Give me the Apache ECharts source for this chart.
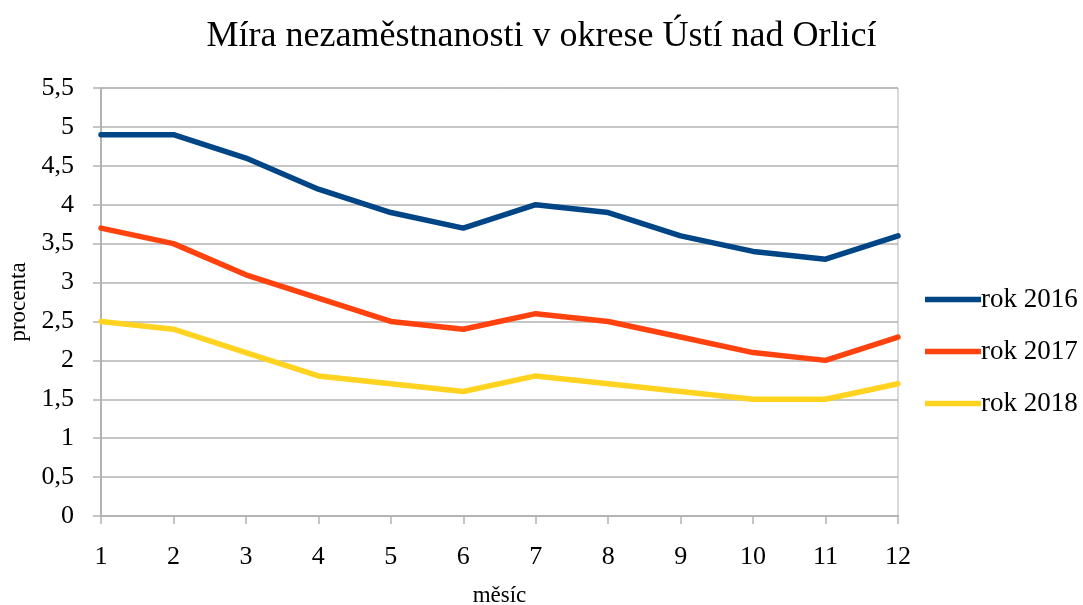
<!DOCTYPE html>
<html><head><meta charset="utf-8">
<script src="https://cdn.jsdelivr.net/npm/echarts@6/dist/echarts.min.js"></script>
<style>html,body{margin:0;padding:0;background:#fff}#c{width:1083px;height:605px}</style>
</head><body><div id="c"></div>
<script>
const months = ['1','2','3','4','5','6','7','8','9','10','11','12'];
const seriesNames = ['rok 2016','rok 2017','rok 2018'];
const rok2016 = [4.9, 4.9, 4.6, 4.2, 3.9, 3.7, 4.0, 3.9, 3.6, 3.4, 3.3, 3.6];
const rok2017 = [3.7, 3.5, 3.1, 2.8, 2.5, 2.4, 2.6, 2.5, 2.3, 2.1, 2.0, 2.3];
const rok2018 = [2.5, 2.4, 2.1, 1.8, 1.7, 1.6, 1.8, 1.7, 1.6, 1.5, 1.5, 1.7];
const colors = ['#004586','#ff420e','#ffd320'];
const FONT = '"Liberation Serif", "DejaVu Serif", serif';
const chart = echarts.init(document.getElementById('c'), null, {renderer:'canvas'});
const mk = (name, data, i) => ({
  name, type:'line', data, symbol:'none', smooth:false,
  lineStyle:{width:5.5, color:colors[i], cap:'round', join:'round'},
  itemStyle:{color:colors[i]}
});
chart.setOption({
  animation:false,
  title:{text:'Míra nezaměstnanosti v okrese Ústí nad Orlicí', left:'center', top:14,
    textStyle:{fontFamily:FONT, fontSize:36, fontWeight:'normal', color:'#000'}},
  grid:{left:101, right:185, top:88, bottom:89, show:true, borderColor:'#b3b3b3', borderWidth:1,
    containLabel:false, outerBoundsMode:'none'},
  legend:{orient:'vertical', left:920, top:281, itemGap:25, itemWidth:56, itemHeight:10,
    icon:'path://M0,0 L10,0 L10,1 L0,1 Z',
    data:seriesNames.map((n,i)=>({name:n, itemStyle:{color:colors[i]}, lineStyle:{color:colors[i], width:5.5, cap:'round'}})),
    textStyle:{fontFamily:FONT, fontSize:27, color:'#000', padding:[0,0,0,-5]}},
  xAxis:{type:'category', data:months, boundaryGap:false,
    name:'měsíc', nameLocation:'middle', nameGap:68,
    nameTextStyle:{fontFamily:FONT, fontSize:23, color:'#000'},
    axisLine:{lineStyle:{color:'#b3b3b3', width:2}},
    axisTick:{show:true, length:8, lineStyle:{color:'#b3b3b3', width:1.5}},
    axisLabel:{fontFamily:FONT, fontSize:26, color:'#000', margin:28},
    splitLine:{show:false}},
  yAxis:{type:'value', min:0, max:5.5, interval:0.5,
    name:'procenta', nameLocation:'middle', nameGap:70,
    nameTextStyle:{fontFamily:FONT, fontSize:23, color:'#000'},
    axisLine:{show:true, lineStyle:{color:'#b3b3b3', width:2}},
    axisTick:{show:true, length:8, lineStyle:{color:'#b3b3b3', width:1.5}},
    axisLabel:{fontFamily:FONT, fontSize:26, color:'#000', margin:27,
      formatter:v=>String(v).replace('.',',')},
    splitLine:{show:true, lineStyle:{color:'#b3b3b3', width:1.5}}},
  series:[mk(seriesNames[0],rok2016,0), mk(seriesNames[1],rok2017,1), mk(seriesNames[2],rok2018,2)]
});
</script></body></html>
